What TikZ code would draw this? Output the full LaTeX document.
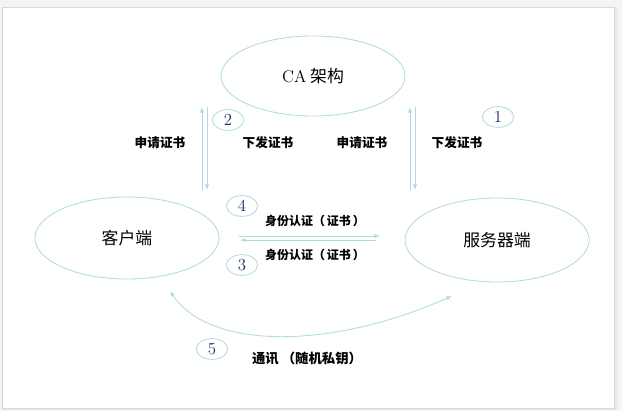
\documentclass[tikz,border=0pt]{standalone}
\usepackage{fontspec}
\usepackage{xcolor}
\newfontfamily\cjk{Noto Sans CJK SC}
\usetikzlibrary{shapes.geometric,arrows.meta}
\definecolor{ln}{HTML}{B0DBE2}
\definecolor{num}{HTML}{1C2F6B}
\definecolor{bg}{HTML}{F3F4F6}

\begin{document}
\begin{tikzpicture}[x=0.025cm, y=-0.025cm,
    big/.style={ellipse, draw=ln, line width=0.6pt, inner sep=0pt,
      minimum width=4.6cm, minimum height=2cm,
      font=\cjk\fontsize{12}{12}\selectfont},
    tag/.style={ellipse, draw=ln, line width=0.6pt, inner sep=0pt,
      minimum width=0.78cm, minimum height=0.52cm, text=num,
      font=\fontsize{12}{12}\selectfont},
    lab/.style={inner sep=0pt, font=\cjk\bfseries\fontsize{9}{9}\selectfont},
    conn/.style={draw=ln, line width=0.6pt, -{Latex[length=4pt,width=3pt]}}]

    % frame
    \useasboundingbox (0,0) rectangle (622,411);
    \fill[bg] (0,0) rectangle (622,411);
    \fill[black!9] (3,8) rectangle (617,410);
    \filldraw[fill=white, draw=black!15] (2,7) rectangle (614,408);

    \node[big] (ca) at (313,76) {{\rmfamily CA}\ 架构};
    \node[big, minimum height=2.05cm] (k) at (127,238) {客户端};
    \node[big, minimum height=2.1cm] (s) at (497,240) {服务器端};

    \node[tag] (n1) at (498,117) {1};
    \node[tag] (n2) at (228,120) {2};
    \node[tag] (n3) at (242,265) {3};
    \node[tag] (n4) at (242,206) {4};
    \node[tag] (n5) at (212,349) {5};

    \node[lab] (l1) at (160,143) {申请证书};
    \node[lab] (l2) at (268,143) {下发证书};
    \node[lab] (l3) at (362,143) {申请证书};
    \node[lab] (l4) at (457,143) {下发证书};
    \node[lab, font=\cjk\bfseries\fontsize{8.5}{8.5}\selectfont] (l5) at (315,221) {身份认证（\,证书\,）};
    \node[lab, font=\cjk\bfseries\fontsize{8.5}{8.5}\selectfont] (l6) at (315,255) {身份认证（\,证书\,）};
    \node[lab, font=\cjk\bfseries\fontsize{9.5}{9.5}\selectfont] (l7) at (307,358) {通讯\ （随机私钥）};

    \coordinate (a1) at (202,190);
    \coordinate (a2) at (202,107);
    \coordinate (b1) at (207,107);
    \coordinate (b2) at (207,190);
    \coordinate (c1) at (410,190);
    \coordinate (c2) at (410,107);
    \coordinate (d1) at (415,107);
    \coordinate (d2) at (415,190);
    \coordinate (e1) at (239,236);
    \coordinate (e2) at (380,236);
    \coordinate (f1) at (376,240);
    \coordinate (f2) at (240,240);
    \coordinate (g1) at (170,291);
    \coordinate (g2) at (452,296);

    \draw[conn] (a1) -- (a2);
    \draw[conn] (b1) -- (b2);
    \draw[conn] (c1) -- (c2);
    \draw[conn] (d1) -- (d2);
    \draw[conn] (e1) -- (e2);
    \draw[conn] (f1) -- (f2);
    \draw[conn, {Latex[length=4pt,width=3pt]}-{Latex[length=4pt,width=3pt]}]
      (g1) .. controls (210,350) and (330,350) .. (g2);

\end{tikzpicture}
\end{document}
